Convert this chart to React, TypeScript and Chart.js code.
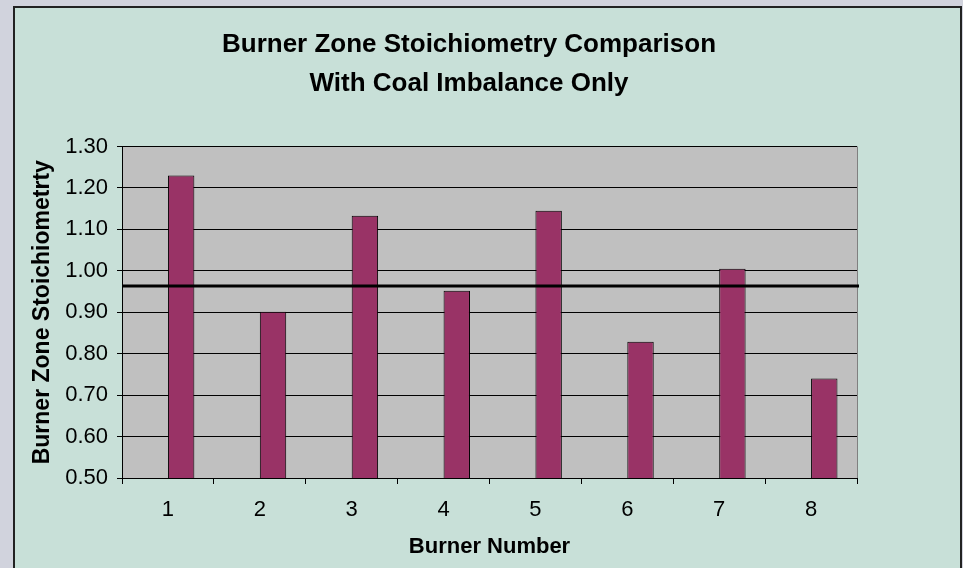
import React, { useEffect, useRef } from "react";
import { Chart, registerables } from "chart.js";

Chart.register(...registerables);

const burnerNumbers = ["1", "2", "3", "4", "5", "6", "7", "8"];
const burnerStoich = [1.23, 0.901, 1.133, 0.952, 1.145, 0.829, 1.005, 0.74];
const emptySeries = [null, null, null, null, null, null, null, null];
const averageStoich = 0.963;
const yMin = 0.5;
const yMax = 1.3;
const yStep = 0.1;
const titleLines = ["Burner Zone Stoichiometry Comparison", "With Coal Imbalance Only"];
const xTitle = "Burner Number";
const yTitle = "Burner Zone Stoichiometrty";

const FONT = "'Liberation Sans', Arial, Helvetica, sans-serif";

const plotPlugin = {
  id: "plotDecor",
  beforeDraw(chart: any) {
    const { ctx, chartArea } = chart;
    const { left, top, right, bottom } = chartArea;
    ctx.save();
    ctx.fillStyle = "#C0C0C0";
    ctx.fillRect(left, top, right - left, bottom - top);
    ctx.restore();
  },
  beforeDatasetsDraw(chart: any) {
    const { ctx, chartArea } = chart;
    const { top, right, bottom } = chartArea;
    ctx.save();
    ctx.strokeStyle = "#808080";
    ctx.lineWidth = 1;
    ctx.beginPath();
    ctx.moveTo(Math.round(right) + 0.5, top);
    ctx.lineTo(Math.round(right) + 0.5, bottom);
    ctx.stroke();
    ctx.restore();
  },
  afterDatasetsDraw(chart: any) {
    const { ctx, chartArea, scales } = chart;
    const y = scales.y.getPixelForValue(averageStoich);
    ctx.save();
    ctx.strokeStyle = "#000000";
    ctx.lineWidth = 3;
    ctx.beginPath();
    ctx.moveTo(chartArea.left, y);
    ctx.lineTo(chartArea.right + 2, y);
    ctx.stroke();
    ctx.restore();
  },
};

export default function App() {
  const canvasRef = useRef<HTMLCanvasElement | null>(null);

  useEffect(() => {
    if (!canvasRef.current) return;
    Chart.defaults.font.family = FONT;
    Chart.defaults.color = "#000000";
    const chart = new Chart(canvasRef.current, {
      type: "bar",
      data: {
        labels: burnerNumbers,
        datasets: [
          {
            label: "Placeholder",
            data: emptySeries as any,
            backgroundColor: "#333399",
          },
          {
            label: "Burner Zone Stoichiometry",
            data: burnerStoich,
            backgroundColor: "#993366",
            borderColor: "#000000",
            borderWidth: 1,
          },
        ],
      },
      options: {
        responsive: false,
        animation: false,
        devicePixelRatio: 1,
        datasets: {
          bar: { categoryPercentage: 0.575, barPercentage: 1 },
        } as any,
        layout: { padding: { top: 0, left: 0, right: 37, bottom: 0 } },
        plugins: {
          legend: { display: false },
          tooltip: { enabled: false },
          title: {
            display: true,
            text: titleLines,
            color: "#000000",
            font: { size: 26, weight: "bold", family: FONT, lineHeight: 1.47 },
            padding: { top: 18, bottom: 44 },
          },
        },
        scales: {
          x: {
            offset: true,
            grid: {
              display: true,
              offset: true,
              drawOnChartArea: false,
              drawTicks: true,
              tickLength: 6,
              tickColor: "#000000",
              color: "#000000",
            },
            border: { display: true, color: "#000000", width: 1 },
            ticks: { color: "#000000", font: { size: 22, family: FONT }, padding: 13, maxRotation: 0 },
            title: {
              display: true,
              text: xTitle,
              color: "#000000",
              font: { size: 22, weight: "bold", family: FONT, lineHeight: 1.2 },
              padding: { top: 0, bottom: 8 },
            },
            afterFit(scale: any) {
              scale.height = 90;
            },
          },
          y: {
            min: yMin,
            max: yMax,
            ticks: {
              stepSize: yStep,
              color: "#000000",
              font: { size: 22, family: FONT },
              padding: 9,
              callback: (v: any) => Number(v).toFixed(2),
            },
            grid: {
              color: "#000000",
              lineWidth: 1,
              drawTicks: true,
              tickLength: 5,
              tickColor: "#000000",
            },
            border: { display: true, color: "#000000", width: 1 },
            title: {
              display: true,
              text: yTitle,
              color: "#000000",
              font: { size: 23, weight: "bold", family: FONT, lineHeight: 1.2 },
              padding: { top: 14, bottom: 0 },
            },
            afterFit(scale: any) {
              scale.width = 107;
            },
          },
          spacer: {
            type: "linear",
            position: "right",
            display: true,
            grid: { display: false, drawTicks: false },
            border: { display: false },
            ticks: { display: false },
            afterFit(scale: any) {
              scale.width = 66;
            },
          } as any,
        },
      },
      plugins: [plotPlugin],
    });
    return () => chart.destroy();
  }, []);

  return (
    <>
      <div style={{ position: "fixed", left: 0, top: 0, right: 0, bottom: 0, background: "#D1D3DD" }} />
      <div
        style={{
          position: "absolute",
          left: 13,
          top: 6,
          width: 949,
          height: 570,
          boxSizing: "border-box",
          borderTop: "2px solid #222222",
          borderLeft: "2px solid #222222",
          borderRight: "2px solid #222222",
          background: "#C8E0D8",
        }}
      >
        <canvas ref={canvasRef} width={945} height={560} style={{ display: "block", width: 945, height: 560 }} />
      </div>
    </>
  );
}
